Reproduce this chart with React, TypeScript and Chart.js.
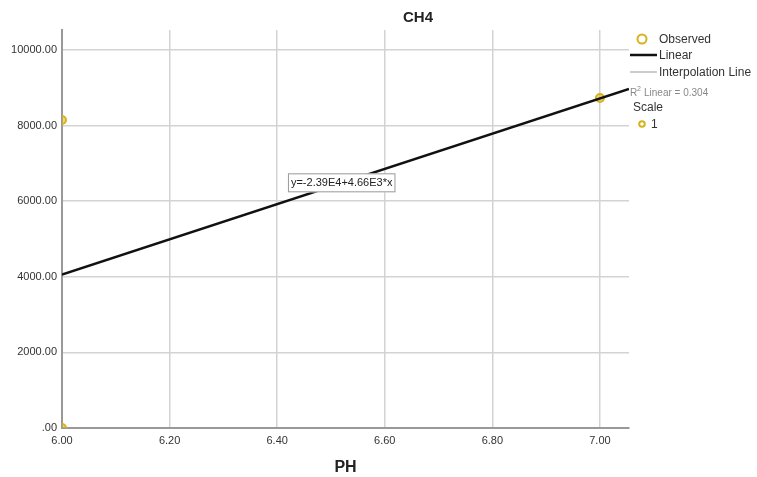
import React, { useEffect, useRef } from "react";
import { Chart, registerables } from "chart.js";

Chart.register(...registerables);

const obsX = [6.0, 6.0, 7.0];
const obsY = [8150, 0, 8730];
const intercept = -23900;
const slope = 4660;
const fitX = [6.0, 7.054];
const xTicks = [6.0, 6.2, 6.4, 6.6, 6.8, 7.0];
const yTicks = [0, 2000, 4000, 6000, 8000, 10000];
const titleText = "CH4";
const xTitle = "PH";
const eqText = "y=-2.39E4+4.66E3*x";
const r2Text = "Linear = 0.304";

const GOLD = "#d6b31c";
const FONT = "'Liberation Sans', Arial, sans-serif";

const overlay = {
  id: "overlay",
  afterDraw(chart: any) {
    const ctx = chart.ctx;
    const xs = chart.scales.x;
    const ys = chart.scales.y;
    ctx.save();
    // title
    ctx.fillStyle = "#222";
    ctx.font = `bold 15px ${FONT}`;
    ctx.textAlign = "center";
    ctx.textBaseline = "middle";
    ctx.fillText(titleText, 418, 18);
    // x title
    ctx.font = `bold 16px ${FONT}`;
    ctx.fillText(xTitle, (chart.chartArea.left + chart.chartArea.right) / 2, 468);
    // equation box
    const ex = xs.getPixelForValue(6.42);
    const ey = ys.getPixelForValue(6500);
    ctx.font = `11px ${FONT}`;
    ctx.textAlign = "left";
    const w = ctx.measureText(eqText).width;
    ctx.fillStyle = "#fff";
    ctx.fillRect(ex, ey - 9, w + 6, 19);
    ctx.strokeStyle = "#999";
    ctx.lineWidth = 1;
    ctx.strokeRect(ex + 0.5, ey - 8.5, w + 5, 18);
    ctx.fillStyle = "#222";
    ctx.fillText(eqText, ex + 3, ey + 1);
    // legend
    ctx.strokeStyle = GOLD;
    ctx.lineWidth = 2;
    ctx.beginPath();
    ctx.arc(642, 39, 4.5, 0, Math.PI * 2);
    ctx.stroke();
    ctx.fillStyle = "#333";
    ctx.font = `12px ${FONT}`;
    ctx.fillText("Observed", 659, 40);
    ctx.strokeStyle = "#111";
    ctx.lineWidth = 2.5;
    ctx.beginPath();
    ctx.moveTo(630, 55);
    ctx.lineTo(657, 55);
    ctx.stroke();
    ctx.fillText("Linear", 659, 56);
    ctx.strokeStyle = "#bbb";
    ctx.lineWidth = 1.5;
    ctx.beginPath();
    ctx.moveTo(630, 72);
    ctx.lineTo(657, 72);
    ctx.stroke();
    ctx.fillText("Interpolation Line", 659, 73);
    ctx.fillStyle = "#888";
    ctx.font = `10px ${FONT}`;
    ctx.fillText("R", 630, 93);
    ctx.font = `7px ${FONT}`;
    ctx.fillText("2", 637, 89);
    ctx.font = `10px ${FONT}`;
    ctx.fillText(r2Text, 644, 93);
    ctx.fillStyle = "#333";
    ctx.font = `12px ${FONT}`;
    ctx.fillText("Scale", 633, 108);
    ctx.strokeStyle = GOLD;
    ctx.lineWidth = 2;
    ctx.beginPath();
    ctx.arc(642, 124, 2.8, 0, Math.PI * 2);
    ctx.stroke();
    ctx.fillText("1", 651, 125);
    ctx.restore();
  },
};

export default function App() {
  const ref = useRef<HTMLCanvasElement>(null);
  useEffect(() => {
    if (!ref.current) return;
    const chart = new Chart(ref.current, {
      type: "scatter",
      data: {
        datasets: [
          {
            type: "line",
            label: "Linear",
            data: fitX.map((x) => ({ x, y: intercept + slope * x })),
            borderColor: "#111",
            borderWidth: 2.5,
            pointRadius: 0,
            fill: false,
          } as any,
          {
            label: "Observed",
            data: obsX.map((x, i) => ({ x, y: obsY[i] })),
            pointRadius: 4,
            pointBorderWidth: 2,
            borderColor: GOLD,
            backgroundColor: "rgba(214,179,28,0.5)",
          },
        ],
      },
      options: {
        animation: false,
        responsive: true,
        maintainAspectRatio: false,
        layout: { padding: { left: 0, right: 128, top: 30, bottom: 0 } },
        plugins: { legend: { display: false }, title: { display: false }, tooltip: { enabled: false } },
        scales: {
          x: {
            type: "linear",
            min: 6.0,
            max: 7.054,
            afterFit: (s: any) => { s.height = 49; },
            afterBuildTicks: (s: any) => { s.ticks = xTicks.map((v) => ({ value: v })); },
            ticks: {
              padding: 6,
              color: "#333",
              font: { family: FONT, size: 11 },
              callback: (v: any) => Number(v).toFixed(2),
              maxRotation: 0,
            },
            grid: { color: "#d3d3d3", lineWidth: 1.5, drawTicks: false },
            border: { color: "#999", width: 2 },
          },
          y: {
            type: "linear",
            min: 0,
            max: 10530,
            afterFit: (s: any) => { s.width = 62; },
            afterBuildTicks: (s: any) => { s.ticks = yTicks.map((v) => ({ value: v })); },
            ticks: {
              padding: 5,
              color: "#333",
              font: { family: FONT, size: 11 },
              callback: (v: any) => (Number(v) === 0 ? ".00" : Number(v).toFixed(2)),
            },
            grid: { color: "#d3d3d3", lineWidth: 1.5, drawTicks: false },
            border: { color: "#999", width: 2 },
          },
        },
      },
      plugins: [overlay],
    });
    return () => chart.destroy();
  }, []);
  return (
    <div style={{ position: "absolute", left: 0, top: 0, width: 757, height: 477, background: "#fff" }}>
      <canvas ref={ref} />
    </div>
  );
}
